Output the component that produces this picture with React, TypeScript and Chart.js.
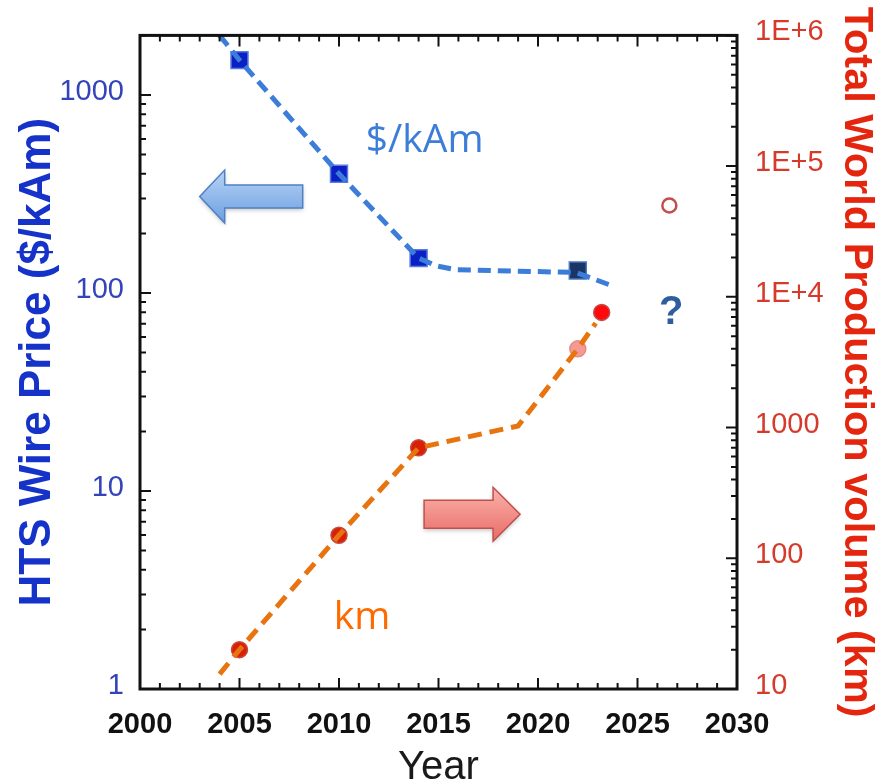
import React, { useEffect, useRef } from 'react';
import { Chart, registerables } from 'chart.js';

Chart.register(...registerables);

// ---- data ----
const priceYears = [2005, 2010, 2014, 2022];
const priceValues = [1500, 400, 150, 130];
const priceFitYears = [2004, 2005, 2010, 2014, 2014.9, 2015.9, 2021.9, 2023.7];
const priceFitValues = [2000, 1500, 400, 150, 137, 131, 127, 109];

const prodYears = [2005, 2010, 2014, 2022, 2023.2];
const prodValues = [20, 150, 700, 4000, 7600];
const prodFitYears = [2004, 2005, 2010, 2014, 2019, 2022, 2022.9];
const prodFitValues = [13, 20, 150, 700, 1030, 4000, 6300];

const projectionYears = [2026.6];
const projectionValues = [50000];

const xTickValues = [2000, 2005, 2010, 2015, 2020, 2025, 2030];
const leftTickValues = [1, 10, 100, 1000];
const rightTickValues = [10, 100, 1000, 10000, 100000, 1000000];
const rightTickLabels = ['10', '100', '1000', '1E+4', '1E+5', '1E+6'];

// ---- styles ----
const FONT = '"Liberation Sans", Arial, Helvetica, sans-serif';
const priceSquareFill = ['#0a1fc4', '#0a1fc4', '#0a1fc4', '#1b3564'];
const priceSquareBorder = ['#5a7be0', '#5a7be0', '#5a7be0', '#4a78c0'];
const prodCircleFill = ['#d82008', '#d82008', '#d82008', '#f49a94', '#ff0a0a'];
const prodCircleBorder = ['#c84a3a', '#c84a3a', '#c84a3a', '#e88a84', '#c0504d'];

const zip = (xs: number[], ys: number[]) => xs.map((x, i) => ({ x, y: ys[i] }));

function drawArrow(
  ctx: CanvasRenderingContext2D,
  tipX: number,
  tipY: number,
  dir: number,
  length: number,
  bodyH: number,
  headH: number,
  headL: number,
  c1: string,
  c2: string,
  stroke: string
) {
  const baseX = tipX - dir * headL;
  const endX = tipX - dir * length;
  ctx.save();
  ctx.beginPath();
  ctx.moveTo(tipX, tipY);
  ctx.lineTo(baseX, tipY - headH / 2);
  ctx.lineTo(baseX, tipY - bodyH / 2);
  ctx.lineTo(endX, tipY - bodyH / 2);
  ctx.lineTo(endX, tipY + bodyH / 2);
  ctx.lineTo(baseX, tipY + bodyH / 2);
  ctx.lineTo(baseX, tipY + headH / 2);
  ctx.closePath();
  const g = ctx.createLinearGradient(0, tipY - headH / 2, 0, tipY + headH / 2);
  g.addColorStop(0, c1);
  g.addColorStop(1, c2);
  ctx.shadowColor = 'rgba(0,0,0,0.25)';
  ctx.shadowBlur = 4;
  ctx.shadowOffsetY = 2;
  ctx.fillStyle = g;
  ctx.fill();
  ctx.shadowColor = 'transparent';
  ctx.lineWidth = 1.5;
  ctx.strokeStyle = stroke;
  ctx.stroke();
  ctx.restore();
}

const annotationPlugin = {
  id: 'annotations',
  afterDatasetsDraw(chart: any) {
    const { ctx, scales } = chart;
    const x = scales.x;
    const yl = scales.y;
    const yr = scales.y1;
    ctx.save();
    ctx.textAlign = 'center';
    ctx.textBaseline = 'middle';
    ctx.font = '39px "Open Sans", "Liberation Sans", sans-serif';
    ctx.fillStyle = '#3b7dd8';
    ctx.fillText('$/kAm', x.getPixelForValue(2014.3), yl.getPixelForValue(586));
    ctx.fillStyle = '#ff6a00';
    ctx.fillText('km', x.getPixelForValue(2011.16), yr.getPixelForValue(34.7));
    ctx.font = 'bold 40px "Liberation Sans", Arial, sans-serif';
    ctx.fillStyle = '#2e5e9e';
    ctx.fillText('?', x.getPixelForValue(2026.7), yr.getPixelForValue(7590));
    ctx.restore();
    drawArrow(ctx, x.getPixelForValue(2003.0), yl.getPixelForValue(307), -1, 103, 23, 53, 25,
      '#b8d3f6', '#6c9fe0', '#4f80c4');
    drawArrow(ctx, x.getPixelForValue(2019.1), yr.getPixelForValue(217), 1, 96, 28, 54, 27,
      '#fbb2ac', '#e86c66', '#c0504d');
  },
};

const framePlugin = {
  id: 'frame',
  afterDraw(chart: any) {
    const { ctx, chartArea, scales } = chart;
    const { left, right, top, bottom } = chartArea;
    const x = scales.x;
    const yl = scales.y;
    const yr = scales.y1;
    ctx.save();
    ctx.strokeStyle = '#111';
    ctx.lineWidth = 2;
    ctx.beginPath();
    for (let v = 2000; v <= 2030; v++) {
      const px = x.getPixelForValue(v);
      const len = v % 5 === 0 ? 11 : 6;
      ctx.moveTo(px, bottom);
      ctx.lineTo(px, bottom - len);
      ctx.moveTo(px, top);
      ctx.lineTo(px, top + len);
    }
    for (let d = 1; d <= 1000; d *= 10) {
      for (let m = 1; m <= 9; m++) {
        const v = d * m;
        if (v > 2000) break;
        const py = yl.getPixelForValue(v);
        const len = m === 1 ? 11 : 6;
        ctx.moveTo(left, py);
        ctx.lineTo(left + len, py);
      }
    }
    for (let d = 10; d <= 1000000; d *= 10) {
      for (let m = 1; m <= 9; m++) {
        const v = d * m;
        if (v > 1000000) break;
        const py = yr.getPixelForValue(v);
        const len = m === 1 ? 11 : 6;
        ctx.moveTo(right, py);
        ctx.lineTo(right - len, py);
      }
    }
    ctx.stroke();
    ctx.lineWidth = 3;
    ctx.strokeRect(left, top, right - left, bottom - top);
    ctx.restore();
  },
};

export default function App() {
  const ref = useRef<HTMLCanvasElement | null>(null);

  useEffect(() => {
    if (!ref.current) return;
    const chart = new Chart(ref.current, {
      type: 'scatter',
      data: {
        datasets: [
          {
            label: 'Price fit',
            data: zip(priceFitYears, priceFitValues),
            yAxisID: 'y',
            showLine: true,
            borderColor: '#3b7dd8',
            borderWidth: 5,
            borderDash: [13, 7],
            pointRadius: 0,
            order: 0,
          },
          {
            label: 'Production fit',
            data: zip(prodFitYears, prodFitValues),
            yAxisID: 'y1',
            showLine: true,
            borderColor: '#e8740f',
            borderWidth: 5,
            borderDash: [14, 8],
            pointRadius: 0,
            order: 0,
          },
          {
            label: '$/kAm',
            data: zip(priceYears, priceValues),
            yAxisID: 'y',
            pointStyle: 'rect',
            pointRadius: 12,
            backgroundColor: priceSquareFill,
            borderColor: priceSquareBorder,
            borderWidth: 1.5,
            order: 1,
          },
          {
            label: 'km',
            data: zip(prodYears, prodValues),
            yAxisID: 'y1',
            pointStyle: 'circle',
            pointRadius: 8,
            backgroundColor: prodCircleFill,
            borderColor: prodCircleBorder,
            borderWidth: 1.5,
            order: 1,
          },
          {
            label: 'projection',
            data: zip(projectionYears, projectionValues),
            yAxisID: 'y1',
            pointStyle: 'circle',
            pointRadius: 7,
            backgroundColor: '#ffffff',
            borderColor: '#c0504d',
            borderWidth: 2.5,
            order: 1,
          },
        ],
      },
      options: {
        responsive: false,
        animation: false,
        events: [],
        layout: { padding: { top: 31, left: 0, right: 0, bottom: 0 } },
        plugins: {
          legend: { display: false },
          tooltip: { enabled: false },
        },
        scales: {
          x: {
            type: 'linear',
            min: 2000,
            max: 2030,
            afterBuildTicks: (s: any) => {
              s.ticks = xTickValues.map((v) => ({ value: v }));
            },
            ticks: {
              autoSkip: false,
              maxRotation: 0,
              padding: 19,
              color: '#111',
              font: { family: FONT, size: 29, weight: 'bold' },
              callback: (v: any) => String(v),
            },
            grid: { display: false, drawTicks: false },
            border: { display: false },
            title: {
              display: true,
              text: 'Year',
              color: '#1a1a1a',
              font: { family: FONT, size: 40 },
              padding: { top: 0, bottom: -8 },
            },
            afterFit: (s: any) => {
              s.height = 95;
            },
          },
          y: {
            type: 'logarithmic',
            position: 'left',
            min: 1,
            max: 2000,
            afterBuildTicks: (s: any) => {
              s.ticks = leftTickValues.map((v) => ({ value: v }));
            },
            ticks: {
              autoSkip: false,
              padding: 16,
              labelOffset: -3,
              color: '#3344bb',
              font: { family: FONT, size: 29 },
              callback: (v: any) => String(v),
            },
            grid: { display: false, drawTicks: false },
            border: { display: false },
            title: {
              display: true,
              text: 'HTS Wire Price ($/kAm)',
              color: '#1533c8',
              font: { family: FONT, size: 44, weight: 'bold' },
              padding: { top: 11, bottom: 0 },
            },
            afterFit: (s: any) => {
              s.width = 140;
            },
          },
          y1: {
            type: 'logarithmic',
            position: 'right',
            min: 10,
            max: 1000000,
            afterBuildTicks: (s: any) => {
              s.ticks = rightTickValues.map((v) => ({ value: v }));
            },
            ticks: {
              autoSkip: false,
              padding: 18,
              labelOffset: -3,
              color: '#d63a2a',
              font: { family: FONT, size: 29 },
              callback: (v: any) => {
                const i = rightTickValues.indexOf(Number(v));
                return i >= 0 ? rightTickLabels[i] : '';
              },
            },
            grid: { display: false, drawTicks: false },
            border: { display: false },
            title: {
              display: true,
              text: 'Total World Production volume (km)',
              color: '#e4260e',
              font: { family: FONT, size: 41.5, weight: 'bold' },
              padding: { top: 11, bottom: 0 },
            },
            afterFit: (s: any) => {
              s.width = 155;
            },
          },
        },
      } as any,
      plugins: [annotationPlugin, framePlugin],
    });
    return () => chart.destroy();
  }, []);

  return (
    <div style={{ position: 'fixed', left: 0, top: 0, width: 892, height: 784, background: '#fff' }}>
      <canvas ref={ref} width={892} height={784} style={{ width: 892, height: 784 }} />
    </div>
  );
}
